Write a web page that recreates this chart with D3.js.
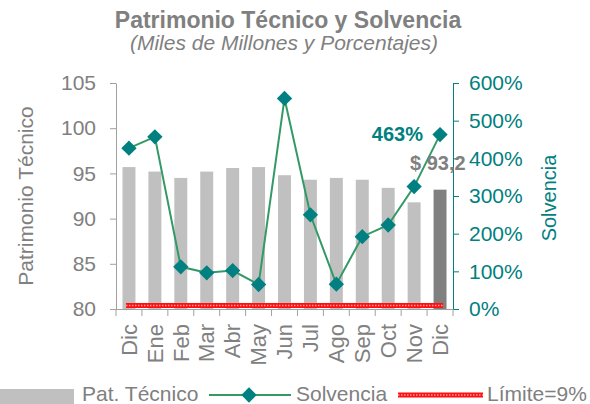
<!DOCTYPE html>
<html>
<head>
<meta charset="utf-8">
<script src="https://cdn.jsdelivr.net/npm/d3@7"></script>
<style>
  body { margin: 0; background: #fff; }
  text { font-family: "Liberation Sans", Arial, sans-serif; }
</style>
</head>
<body>
<div class="chart-box"></div>
<script>
/* Data */
const months = ["Dic", "Ene", "Feb", "Mar", "Abr", "May", "Jun", "Jul", "Ago", "Sep", "Oct", "Nov", "Dic"];
const patTecnico = [95.7, 95.2, 94.5, 95.2, 95.6, 95.7, 94.8, 94.3, 94.5, 94.3, 93.4, 91.8, 93.2];
const solvencia = [4.27, 4.57, 1.12, 0.96, 1.02, 0.65, 5.59, 2.50, 0.66, 1.92, 2.23, 3.25, 4.63];
const limite = 0.09;
const leftTicks = [80, 85, 90, 95, 100, 105];
const rightTicks = [0, 1, 2, 3, 4, 5, 6];

let width = 590, height = 404;
const gray = "#808080", teal = "#008080", green = "#339966";

let svg = d3.select(".chart-box").append("svg")
  .attr("width", width)
  .attr("height", height);

/* Scales */
let x = d3.scaleBand()
  .domain(months.map((d, i) => i))
  .range([116, 453])
  .paddingInner(0.5)
  .paddingOuter(0.25);
let yL = d3.scaleLinear().domain([80, 105]).range([309, 83]);
let yR = d3.scaleLinear().domain([0, 6]).range([309, 83]);
let cx = i => x(i) + x.bandwidth() / 2;

/* Title */
svg.append("text").attr("x", 288).attr("y", 28).attr("text-anchor", "middle")
  .style("font-size", "23px").style("font-weight", "bold").style("fill", gray)
  .text("Patrimonio Técnico y Solvencia");
svg.append("text").attr("x", 284).attr("y", 50).attr("text-anchor", "middle")
  .style("font-size", "21px").style("font-style", "italic").style("fill", gray)
  .text("(Miles de Millones y Porcentajes)");

/* Bars */
svg.append("g").selectAll("rect")
  .data(patTecnico)
  .enter().append("rect")
  .attr("x", (d, i) => x(i))
  .attr("width", x.bandwidth())
  .attr("y", d => yL(d))
  .attr("height", d => yL(80) - yL(d))
  .style("fill", (d, i) => i === patTecnico.length - 1 ? "#808080" : "#c0c0c0");

/* Limit line */
let limLine = [[cx(0) - 3, yR(limite)], [cx(months.length - 1) + 3, yR(limite)]];
svg.append("path").attr("d", d3.line()(limLine))
  .style("stroke", "#ff1010").style("stroke-width", 5);
svg.append("path").attr("d", d3.line()(limLine))
  .style("stroke", "#ff9a9a").style("stroke-width", 1.5).style("stroke-dasharray", "1.5,1.5");

/* Left axis */
let axL = svg.append("g").attr("transform", "translate(116,0)")
  .call(d3.axisLeft(yL).tickValues(leftTicks).tickSize(6).tickSizeOuter(0).tickPadding(14));
axL.select(".domain").style("stroke", "#a0a0a0");
axL.selectAll(".tick line").style("stroke", "#a0a0a0");
axL.selectAll("text").style("font-size", "21px").style("fill", gray).style("font-family", "Liberation Sans, Arial");

/* Right axis */
let axR = svg.append("g").attr("transform", "translate(453,0)")
  .call(d3.axisRight(yR).tickValues(rightTicks).tickFormat(d => d * 100 + "%").tickSize(6).tickSizeOuter(0).tickPadding(10));
axR.select(".domain").style("stroke", teal);
axR.selectAll(".tick line").style("stroke", teal);
axR.selectAll("text").style("font-size", "21px").style("fill", teal).style("font-family", "Liberation Sans, Arial");

/* Bottom axis */
let axB = svg.append("g").attr("transform", "translate(0,309)")
  .call(d3.axisBottom(x).tickSize(0).tickFormat(i => months[i]));
axB.select(".domain").remove();
axB.append("path").attr("d", "M116,0.5H453").style("stroke", "#a0a0a0");
axB.selectAll("text")
  .attr("transform", "rotate(-90)")
  .attr("x", -15).attr("y", 0).attr("dy", "0.35em")
  .style("text-anchor", "end")
  .style("font-size", "22px").style("fill", gray).style("font-family", "Liberation Sans, Arial");
axB.selectAll(".sep")
  .data(d3.range(months.length + 1))
  .enter().append("line").attr("class", "sep")
  .attr("x1", i => 116 + i * x.step()).attr("x2", i => 116 + i * x.step())
  .attr("y1", 0).attr("y2", 7)
  .style("stroke", "#a0a0a0");

/* Solvencia line */
svg.append("path")
  .datum(solvencia)
  .attr("d", d3.line().x((d, i) => cx(i)).y(d => yR(d)))
  .style("fill", "none").style("stroke", green).style("stroke-width", 2);
svg.append("g").selectAll("path")
  .data(solvencia)
  .enter().append("path")
  .attr("d", d3.symbol().type(d3.symbolDiamond2).size(150))
  .attr("transform", (d, i) => `translate(${cx(i)},${yR(d)})`)
  .style("fill", teal);

/* Annotations */
svg.append("text").attr("x", 423).attr("y", 141).attr("text-anchor", "end")
  .style("font-size", "20px").style("font-weight", "bold").style("fill", teal)
  .text("463%");
svg.append("text").attr("x", 410).attr("y", 170)
  .style("font-size", "20px").style("font-weight", "bold").style("fill", gray)
  .text("$ 93,2");

/* Axis titles */
svg.append("text").attr("transform", "translate(33,196) rotate(-90)").attr("text-anchor", "middle")
  .style("font-size", "21px").style("fill", gray).text("Patrimonio Técnico");
svg.append("text").attr("transform", "translate(556,198) rotate(-90)").attr("text-anchor", "middle")
  .style("font-size", "20px").style("fill", teal).text("Solvencia");

/* Legend */
let lg = svg.append("g");
lg.append("rect").attr("x", 0).attr("y", 389).attr("width", 74).attr("height", 16).style("fill", "#c0c0c0");
lg.append("text").attr("x", 82).attr("y", 401).style("font-size", "21px").style("fill", gray).text("Pat. Técnico");
lg.append("line").attr("x1", 209).attr("x2", 291).attr("y1", 395).attr("y2", 395)
  .style("stroke", green).style("stroke-width", 2);
lg.append("path").attr("d", d3.symbol().type(d3.symbolDiamond2).size(150))
  .attr("transform", "translate(249,395)").style("fill", teal);
lg.append("text").attr("x", 296).attr("y", 401).style("font-size", "21px").style("fill", gray).text("Solvencia");
lg.append("line").attr("x1", 398).attr("x2", 483).attr("y1", 395).attr("y2", 395)
  .style("stroke", "#ff1010").style("stroke-width", 5);
lg.append("line").attr("x1", 398).attr("x2", 483).attr("y1", 395).attr("y2", 395)
  .style("stroke", "#ff9a9a").style("stroke-width", 1.5).style("stroke-dasharray", "1.5,1.5");
lg.append("text").attr("x", 487).attr("y", 401).style("font-size", "21px").style("fill", gray).text("Límite=9%");
</script>
</body>
</html>
